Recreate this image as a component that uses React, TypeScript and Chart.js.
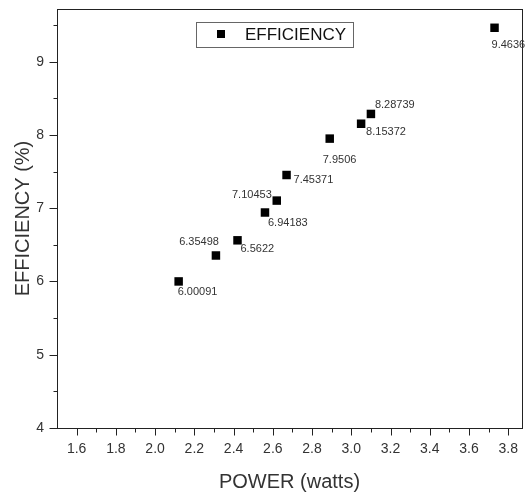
import React, { useEffect, useRef } from "react";
import { Chart, registerables } from "chart.js";

Chart.register(...registerables);

// ---- data ----
const powerWatts = [2.12, 2.31, 2.42, 2.56, 2.62, 2.67, 2.89, 3.05, 3.1, 3.73];
const efficiencyPct = [6.00091, 6.35498, 6.5622, 6.94183, 7.10453, 7.45371, 7.9506, 8.15372, 8.28739, 9.4636];
const pointLabels = ["6.00091", "6.35498", "6.5622", "6.94183", "7.10453", "7.45371", "7.9506", "8.15372", "8.28739", "9.4636"];
const xTickValues = [1.6, 1.8, 2.0, 2.2, 2.4, 2.6, 2.8, 3.0, 3.2, 3.4, 3.6, 3.8];
const yTickValues = [4, 5, 6, 7, 8, 9];
const xMinorTicks = [1.7, 1.9, 2.1, 2.3, 2.5, 2.7, 2.9, 3.1, 3.3, 3.5, 3.7];
const yMinorTicks = [4.5, 5.5, 6.5, 7.5, 8.5, 9.5];
const seriesName = "EFFICIENCY";
const xTitle = "POWER (watts)";
const yTitle = "EFFICIENCY (%)";

// ---- label placement (style) ----
const LABEL_PLACEMENT: { dx: number; dy: number; align: CanvasTextAlign }[] = [
  { dx: -1, dy: 11, align: "left" },
  { dx: 3, dy: -14, align: "right" },
  { dx: 3, dy: 9, align: "left" },
  { dx: 3, dy: 10, align: "left" },
  { dx: -5, dy: -6, align: "right" },
  { dx: 7, dy: 5, align: "left" },
  { dx: -7, dy: 21, align: "left" },
  { dx: 5, dy: 8, align: "left" },
  { dx: 4, dy: -9, align: "left" },
  { dx: -3, dy: 17, align: "left" },
];

const FONT = "'Liberation Sans', Arial, sans-serif";
const AXIS_COLOR = "#222";
const TEXT_COLOR = "#333";

const framePlugin = {
  id: "frameAndExtras",
  afterDraw(chart: any) {
    const { ctx, chartArea } = chart;
    const xs = chart.scales.x;
    const ys = chart.scales.y;
    ctx.save();
    // frame
    ctx.strokeStyle = AXIS_COLOR;
    ctx.lineWidth = 1;
    ctx.strokeRect(
      Math.round(chartArea.left) + 0.5,
      Math.round(chartArea.top) + 0.5,
      Math.round(chartArea.right - chartArea.left),
      Math.round(chartArea.bottom - chartArea.top)
    );
    // ticks
    const bottom = Math.round(chartArea.bottom) + 0.5;
    const left = Math.round(chartArea.left) + 0.5;
    ctx.beginPath();
    xTickValues.forEach((v) => {
      const px = Math.round(xs.getPixelForValue(v)) + 0.5;
      ctx.moveTo(px, bottom);
      ctx.lineTo(px, bottom + 7);
    });
    xMinorTicks.forEach((v) => {
      const px = Math.round(xs.getPixelForValue(v)) + 0.5;
      ctx.moveTo(px, bottom);
      ctx.lineTo(px, bottom + 4);
    });
    yTickValues.forEach((v) => {
      const py = Math.round(ys.getPixelForValue(v)) + 0.5;
      ctx.moveTo(left, py);
      ctx.lineTo(left - 8, py);
    });
    yMinorTicks.forEach((v) => {
      const py = Math.round(ys.getPixelForValue(v)) + 0.5;
      ctx.moveTo(left, py);
      ctx.lineTo(left - 4, py);
    });
    ctx.stroke();

    // point labels
    const meta = chart.getDatasetMeta(0);
    ctx.fillStyle = TEXT_COLOR;
    ctx.font = `11px ${FONT}`;
    ctx.textBaseline = "middle";
    meta.data.forEach((el: any, i: number) => {
      const p = LABEL_PLACEMENT[i] || { dx: 4, dy: 10, align: "left" };
      ctx.textAlign = p.align;
      ctx.fillText(pointLabels[i], el.x + p.dx, el.y + p.dy);
    });

    // legend box
    ctx.strokeStyle = "#666";
    ctx.lineWidth = 1;
    ctx.strokeRect(196.5, 22.5, 157, 25);
    ctx.fillStyle = "#000";
    ctx.fillRect(217, 30, 8, 8);
    ctx.fillStyle = "#111";
    ctx.font = `17px ${FONT}`;
    ctx.textAlign = "left";
    ctx.textBaseline = "middle";
    ctx.fillText(chart.data.datasets[0].label, 245, 35);
    ctx.restore();
  },
};

const zeroPadding = (s: any) => {
  s.paddingTop = 0;
  s.paddingBottom = 0;
  s.paddingLeft = 0;
  s.paddingRight = 0;
};

export default function App() {
  const canvasRef = useRef<HTMLCanvasElement | null>(null);

  useEffect(() => {
    document.body.style.margin = "0";
    const canvas = canvasRef.current;
    if (!canvas) return;
    const chart = new Chart(canvas, {
      type: "scatter",
      data: {
        datasets: [
          {
            label: seriesName,
            data: powerWatts.map((x, i) => ({ x, y: efficiencyPct[i] })),
            backgroundColor: "#000",
            borderColor: "#000",
            pointStyle: "rect",
            pointRadius: 6,
            pointHoverRadius: 6,
            borderWidth: 0,
          },
        ],
      },
      options: {
        responsive: false,
        animation: false,
        devicePixelRatio: 1,
        layout: { autoPadding: false, padding: { top: 9, right: 4, left: 0, bottom: 0 } },
        plugins: { legend: { display: false }, tooltip: { enabled: false } },
        scales: {
          x: {
            type: "linear",
            min: 1.5,
            max: 3.87,
            afterBuildTicks: (s: any) => {
              s.ticks = xTickValues.map((v) => ({ value: v }));
            },
            afterFit: (s: any) => {
              s.height = 72;
              zeroPadding(s);
            },
            grid: { display: false, drawTicks: false },
            border: { display: false },
            ticks: {
              color: TEXT_COLOR,
              font: { family: FONT, size: 14 },
              padding: 13,
              maxRotation: 0,
              autoSkip: false,
              callback: (v: any) => Number(v).toFixed(1),
            },
            title: {
              display: true,
              text: xTitle,
              color: TEXT_COLOR,
              font: { family: FONT, size: 20 },
              padding: { top: 0, bottom: 6 },
            },
          },
          y: {
            type: "linear",
            min: 4,
            max: 9.72,
            afterBuildTicks: (s: any) => {
              s.ticks = yTickValues.map((v) => ({ value: v }));
            },
            afterFit: (s: any) => {
              s.width = 57;
              zeroPadding(s);
            },
            grid: { display: false, drawTicks: false },
            border: { display: false },
            ticks: {
              color: TEXT_COLOR,
              font: { family: FONT, size: 14 },
              padding: 13,
              autoSkip: false,
              callback: (v: any) => String(v),
            },
            title: {
              display: true,
              text: yTitle,
              color: TEXT_COLOR,
              font: { family: FONT, size: 20 },
              padding: { top: 11, bottom: 0 },
            },
          },
        },
      },
      plugins: [framePlugin],
    });
    return () => chart.destroy();
  }, []);

  return <canvas ref={canvasRef} width={526} height={500} style={{ display: "block" }} />;
}
